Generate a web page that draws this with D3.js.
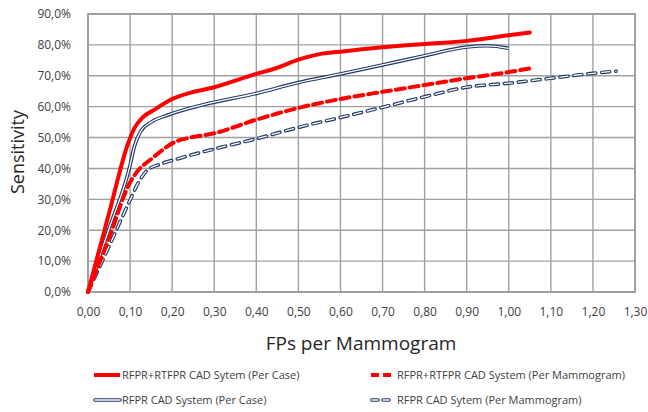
<!DOCTYPE html>
<html>
<head>
<meta charset="utf-8">
<script src="https://cdn.jsdelivr.net/npm/d3@7"></script>
<style>
  body { margin: 0; background: #fff; }
  text { font-family: "Open Sans", sans-serif; fill: #404040; }
</style>
</head>
<body>
<svg width="648" height="412"></svg>
<script>
// values, x = FPs per mammogram, y = sensitivity (%)
var redCaseX = [0, 0.05, 0.095, 0.11, 0.13, 0.16, 0.20, 0.24, 0.30, 0.40, 0.45, 0.50, 0.55, 0.60, 0.70, 0.80, 0.90, 1.00, 1.05];
var redCaseY = [0, 25.5, 48, 53, 56.5, 59.2, 62.5, 64.4, 66.3, 70.6, 72.6, 75.2, 77, 77.8, 79.2, 80.3, 81.3, 83.1, 84.0];

var blueCaseX = [0, 0.05, 0.10, 0.11, 0.125, 0.15, 0.19, 0.27, 0.40, 0.50, 0.60, 0.70, 0.80, 0.90, 0.95, 1.00];
var blueCaseY = [0, 20.5, 41, 47, 52, 55, 57.3, 60.5, 64.3, 67.8, 70.6, 73.5, 76.5, 79.3, 79.7, 78.9];

var redMammoX = [0, 0.05, 0.10, 0.12, 0.15, 0.18, 0.21, 0.24, 0.30, 0.40, 0.50, 0.60, 0.70, 0.80, 0.90, 1.00, 1.05];
var redMammoY = [0, 17.5, 35.5, 39.5, 43, 46.3, 48.8, 49.9, 51.4, 55.8, 59.6, 62.5, 64.8, 67, 69.2, 71.2, 72.4];

var blueMammoX = [0, 0.05, 0.10, 0.12, 0.14, 0.17, 0.21, 0.30, 0.40, 0.50, 0.60, 0.70, 0.80, 0.90, 1.00, 1.10, 1.20, 1.255];
var blueMammoY = [0, 14.8, 29.8, 35.5, 39.3, 41.3, 43, 46.3, 49.6, 53.3, 56.5, 59.8, 63.2, 66.3, 67.6, 69.2, 70.8, 71.5];

var xTicks = [0, 0.1, 0.2, 0.3, 0.4, 0.5, 0.6, 0.7, 0.8, 0.9, 1.0, 1.1, 1.2, 1.3];
var yTicks = [0, 10, 20, 30, 40, 50, 60, 70, 80, 90];

var seriesNames = ['RFPR+RTFPR CAD Sytem (Per Case)', 'RFPR+RTFPR CAD System (Per Mammogram)',
  'RFPR CAD System (Per Case)', 'RFPR CAD Sytem (Per Mammogram)'];

var margin = {top: 14, left: 88, right: 13, bottom: 120};
var width = 648;
var height = 412;
var navy = '#1f3864';

var svg = d3.select('svg');

var xScale = d3.scaleLinear()
  .domain([0, 1.3])
  .range([margin.left, width - margin.right]);

var yScale = d3.scaleLinear()
  .domain([0, 90])
  .range([height - margin.bottom, margin.top]);

var comma = d => d.toFixed(2).replace('.', ',');
var pct = d => d.toFixed(1).replace('.', ',') + '%';

// grid
svg.append('g')
  .selectAll('line.v')
  .data(xTicks)
  .enter()
  .append('line')
  .attr('x1', d => xScale(d))
  .attr('x2', d => xScale(d))
  .attr('y1', yScale(0))
  .attr('y2', yScale(90))
  .attr('stroke', '#a0a0a0')
  .attr('stroke-width', 1.4);

svg.append('g')
  .selectAll('line.h')
  .data(yTicks)
  .enter()
  .append('line')
  .attr('x1', xScale(0))
  .attr('x2', xScale(1.3))
  .attr('y1', d => yScale(d))
  .attr('y2', d => yScale(d))
  .attr('stroke', '#a0a0a0')
  .attr('stroke-width', 1.4);

svg.append('rect')
  .attr('x', xScale(0))
  .attr('y', yScale(90))
  .attr('width', xScale(1.3) - xScale(0))
  .attr('height', yScale(0) - yScale(90))
  .attr('fill', 'none')
  .attr('stroke', '#a0a0a0')
  .attr('stroke-width', 2);

// axes (labels only, the grid draws the lines)
var xAxis = svg.append('g')
  .attr('transform', 'translate(0,' + (yScale(0) + 12) + ')')
  .call(d3.axisBottom(xScale).tickValues(xTicks).tickFormat(comma).tickSize(0));
xAxis.select('.domain').remove();
xAxis.selectAll('text').attr('font-size', 12).attr('font-family', '"Open Sans", sans-serif').attr('fill', '#404040');

var yAxis = svg.append('g')
  .attr('transform', 'translate(' + (xScale(0) - 14) + ',0)')
  .call(d3.axisLeft(yScale).tickValues(yTicks).tickFormat(pct).tickSize(0));
yAxis.select('.domain').remove();
yAxis.selectAll('text').attr('font-size', 12).attr('font-family', '"Open Sans", sans-serif').attr('fill', '#404040');

svg.append('text')
  .attr('x', 361)
  .attr('y', 350)
  .attr('text-anchor', 'middle')
  .attr('font-size', 19)
  .style('fill', '#262626')
  .text('FPs per Mammogram');

svg.append('text')
  .attr('transform', 'translate(24,152) rotate(-90)')
  .attr('text-anchor', 'middle')
  .attr('font-size', 18)
  .style('fill', '#262626')
  .text('Sensitivity');

var line = d3.line()
  .x(d => xScale(d[0]))
  .y(d => yScale(d[1]))
  .curve(d3.curveMonotoneX);

var zip = (xs, ys) => xs.map((x, i) => [x, ys[i]]);

// RFPR per mammogram: hollow dashes
svg.append('path')
  .attr('d', line(zip(blueMammoX, blueMammoY)))
  .attr('fill', 'none')
  .attr('stroke', navy)
  .attr('stroke-width', 3.6)
  .attr('stroke-dasharray', '8,6')
  .attr('stroke-linecap', 'round');
svg.append('path')
  .attr('d', line(zip(blueMammoX, blueMammoY)))
  .attr('fill', 'none')
  .attr('stroke', '#fff')
  .attr('stroke-width', 1.3)
  .attr('stroke-dasharray', '8,6')
  .attr('stroke-linecap', 'round');

// RFPR per case: double line
svg.append('path')
  .attr('d', line(zip(blueCaseX, blueCaseY)))
  .attr('fill', 'none')
  .attr('stroke', navy)
  .attr('stroke-width', 3.6);
svg.append('path')
  .attr('d', line(zip(blueCaseX, blueCaseY)))
  .attr('fill', 'none')
  .attr('stroke', '#fff')
  .attr('stroke-width', 1.3);

// RFPR+RTFPR per mammogram
svg.append('path')
  .attr('d', line(zip(redMammoX, redMammoY)))
  .attr('fill', 'none')
  .attr('stroke', '#ff0000')
  .attr('stroke-width', 4)
  .attr('stroke-dasharray', '9,5')
  .attr('stroke-linecap', 'round');

// RFPR+RTFPR per case
svg.append('path')
  .attr('d', line(zip(redCaseX, redCaseY)))
  .attr('fill', 'none')
  .attr('stroke', '#ff0000')
  .attr('stroke-width', 4)
  .attr('stroke-linecap', 'round');

// legend
var legendPos = [[94, 375], [370, 375], [94, 400], [370, 400]];
var legend = svg.append('g')
  .selectAll('g')
  .data(seriesNames)
  .enter()
  .append('g')
  .attr('transform', (d, i) => 'translate(' + legendPos[i][0] + ',' + legendPos[i][1] + ')');

legend.each(function(d, i) {
  var g = d3.select(this);
  var len = i % 2 === 0 ? 26 : 21;
  if (i === 0) {
    g.append('line').attr('x1', 0).attr('x2', len).attr('stroke', '#ff0000').attr('stroke-width', 4);
  } else if (i === 1) {
    g.append('line').attr('x1', 1).attr('x2', len).attr('stroke', '#ff0000').attr('stroke-width', 4)
      .attr('stroke-dasharray', '8,4');
  } else if (i === 2) {
    g.append('line').attr('x1', 1).attr('x2', len).attr('stroke', navy).attr('stroke-width', 3.6).attr('stroke-linecap', 'round');
    g.append('line').attr('x1', 1).attr('x2', len).attr('stroke', '#fff').attr('stroke-width', 1.3).attr('stroke-linecap', 'round');
  } else {
    g.append('line').attr('x1', 2).attr('x2', len).attr('stroke', navy).attr('stroke-width', 3.6)
      .attr('stroke-dasharray', '6,5').attr('stroke-linecap', 'round');
    g.append('line').attr('x1', 2).attr('x2', len).attr('stroke', '#fff').attr('stroke-width', 1.3)
      .attr('stroke-dasharray', '6,5').attr('stroke-linecap', 'round');
  }
  g.append('text')
    .attr('x', i % 2 === 0 ? 28 : 27)
    .attr('y', 4)
    .attr('font-size', 11)
    .text(d);
});
</script>
</body>
</html>
